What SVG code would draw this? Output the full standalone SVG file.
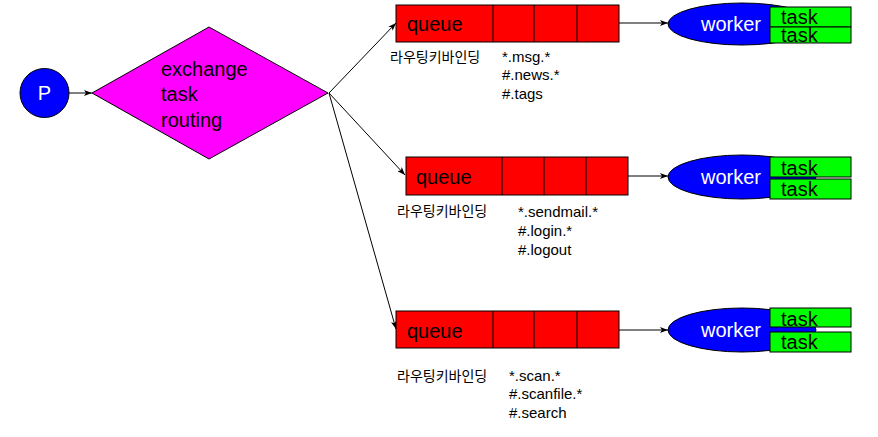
<svg xmlns="http://www.w3.org/2000/svg" width="878" height="437" viewBox="0 0 878 437">
<defs>
<marker id="ah" markerWidth="8" markerHeight="6" refX="8" refY="3" orient="auto" markerUnits="userSpaceOnUse">
<path d="M0,0 L8,3 L0,6 L2,3 Z" fill="#000"/>
</marker>
<style>
text{font-family:"Liberation Sans","Noto Sans CJK KR",Arial,sans-serif}
.big{font-size:20px}
.sm{font-size:14px}
.pt{font-size:15px}
.q{fill:#ff0000;stroke:#000;stroke-width:1}
.t{fill:#00ff00;stroke:#000;stroke-width:1}
.w{fill:#0000ff;stroke:#000;stroke-width:1}
.c{stroke:#000;stroke-width:1;fill:none;marker-end:url(#ah)}
.wt{fill:#fff}
</style>
</defs>
<rect width="878" height="437" fill="#fff"/>
<g id="connectors">
<line class="c" x1="69" y1="93" x2="92" y2="93"/>
<line class="c" x1="329" y1="93" x2="396" y2="23"/>
<line class="c" x1="329" y1="93" x2="405" y2="175"/>
<line class="c" x1="329" y1="93" x2="396" y2="329"/>
<line class="c" x1="619" y1="23" x2="668" y2="23"/>
<line class="c" x1="628" y1="176" x2="668" y2="176"/>
<line class="c" x1="619" y1="330" x2="668" y2="330"/>
</g>
<g id="producer">
<circle class="w" cx="44.5" cy="93" r="24.5"/>
<text class="big wt" x="44.5" y="100" text-anchor="middle">P</text>
</g>
<g id="exchange">
<polygon points="92,93 209,27 328,93 209,159" fill="#ff00ff" stroke="#000" stroke-width="1"/>
<text class="big" x="161" y="76">exchange</text>
<text class="big" x="161" y="101">task</text>
<text class="big" x="161" y="127">routing</text>
</g>
<g id="queue1">
<rect class="q" x="396" y="5" width="223" height="37"/>
<line x1="493" y1="5" x2="493" y2="42" stroke="#000"/>
<line x1="534" y1="5" x2="534" y2="42" stroke="#000"/>
<line x1="577" y1="5" x2="577" y2="42" stroke="#000"/>
<text class="big" x="407" y="31">queue</text>
<text class="sm" x="390" y="62">라우팅키바인딩</text>
<text class="pt" x="502" y="62">*.msg.*</text>
<text class="pt" x="502" y="80">#.news.*</text>
<text class="pt" x="502" y="99">#.tags</text>
</g>
<g id="queue2">
<rect class="q" x="406" y="157" width="222" height="38"/>
<line x1="502" y1="157" x2="502" y2="195" stroke="#000"/>
<line x1="544" y1="157" x2="544" y2="195" stroke="#000"/>
<line x1="586" y1="157" x2="586" y2="195" stroke="#000"/>
<text class="big" x="416" y="184">queue</text>
<text class="sm" x="397" y="216">라우팅키바인딩</text>
<text class="pt" x="518" y="217">*.sendmail.*</text>
<text class="pt" x="518" y="236">#.login.*</text>
<text class="pt" x="518" y="255">#.logout</text>
</g>
<g id="queue3">
<rect class="q" x="396" y="311" width="223" height="37"/>
<line x1="493" y1="311" x2="493" y2="348" stroke="#000"/>
<line x1="534" y1="311" x2="534" y2="348" stroke="#000"/>
<line x1="577" y1="311" x2="577" y2="348" stroke="#000"/>
<text class="big" x="407" y="338">queue</text>
<text class="sm" x="397" y="381">라우팅키바인딩</text>
<text class="pt" x="509" y="381">*.scan.*</text>
<text class="pt" x="509" y="399">#.scanfile.*</text>
<text class="pt" x="509" y="418">#.search</text>
</g>
<g id="worker1">
<ellipse class="w" cx="742" cy="24" rx="74" ry="21"/>
<text class="big wt" x="701" y="31">worker</text>
<rect class="t" x="770" y="7" width="81" height="20"/>
<rect class="t" x="770" y="27" width="81" height="16"/>
<text class="big" x="781" y="24">task</text>
<text class="big" x="781" y="42">task</text>
</g>
<g id="worker2">
<ellipse class="w" cx="742" cy="177" rx="74" ry="22"/>
<text class="big wt" x="701" y="184">worker</text>
<rect class="t" x="770" y="157" width="81" height="20"/>
<rect class="t" x="770" y="179" width="81" height="20"/>
<text class="big" x="781" y="175">task</text>
<text class="big" x="781" y="196">task</text>
</g>
<g id="worker3">
<ellipse class="w" cx="742" cy="330" rx="74" ry="22"/>
<text class="big wt" x="701" y="337">worker</text>
<rect class="t" x="770" y="308" width="81" height="19"/>
<rect class="t" x="770" y="332" width="81" height="20"/>
<text class="big" x="781" y="326">task</text>
<text class="big" x="781" y="349">task</text>
</g>
</svg>
